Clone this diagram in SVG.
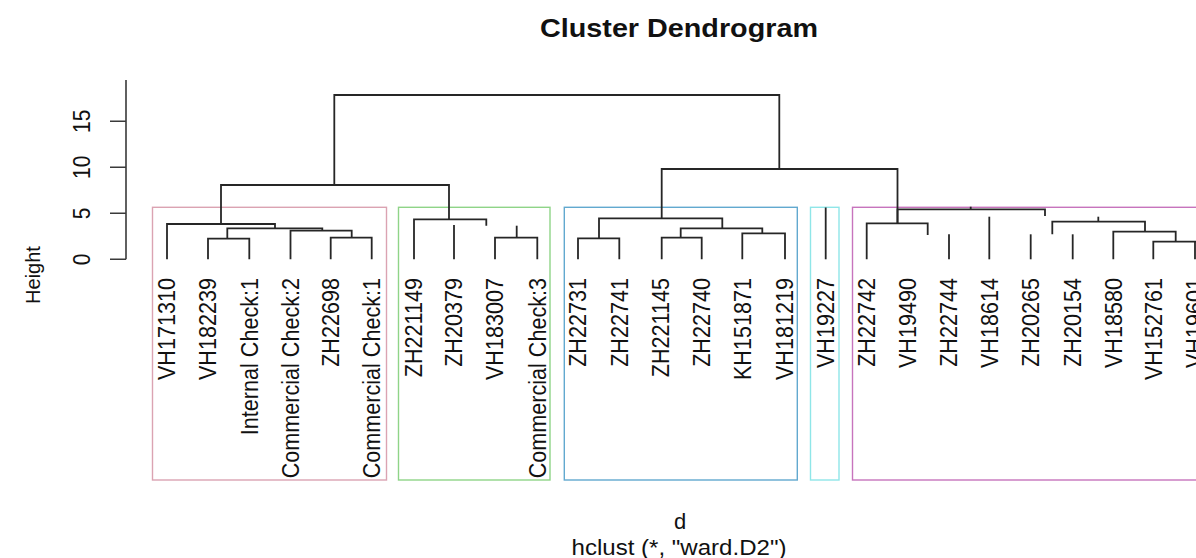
<svg xmlns="http://www.w3.org/2000/svg" width="1196" height="558" viewBox="0 0 1196 558">
  <style>
    text { font-family: "Liberation Sans", Arial, sans-serif; fill: #111; }
    .title { font-size: 26px; font-weight: bold; }
    .sub { font-size: 22px; }
    .tick { font-size: 21px; }
    .leaf { font-size: 21.6px; }
    .axis { fill: none; stroke: #3a3a3a; stroke-width: 1.6; }
    .tree { fill: none; stroke: #262626; stroke-width: 1.8; }
    .box { fill: none; stroke-width: 1.4; }
  </style>

  <!-- titles -->
  <g id="title">
    <text class="title" x="679" y="37" text-anchor="middle" textLength="278" lengthAdjust="spacingAndGlyphs">Cluster Dendrogram</text>
  </g>
  <g id="xlab">
    <text class="sub" x="680" y="529" text-anchor="middle">d</text>
    <text class="sub" x="679" y="555" text-anchor="middle" textLength="215" lengthAdjust="spacingAndGlyphs">hclust (*, "ward.D2")</text>
  </g>
  <g id="ylab">
    <text class="sub" transform="translate(40,275) rotate(-90)" text-anchor="middle" style="font-size:20px">Height</text>
  </g>

  <!-- height axis -->
  <g id="y-axis">
    <path class="axis" d="M126,259.3 V80 M110,259.3 H126 M110,213.3 H126 M110,167.3 H126 M110,121.3 H126"/>
    <text class="tick" transform="translate(90,259.3) scale(1.12,1) rotate(-90)" text-anchor="middle">0</text>
    <text class="tick" transform="translate(90,213.3) scale(1.12,1) rotate(-90)" text-anchor="middle">5</text>
    <text class="tick" transform="translate(90,167.3) scale(1.12,1) rotate(-90)" text-anchor="middle">10</text>
    <text class="tick" transform="translate(90,121.3) scale(1.12,1) rotate(-90)" text-anchor="middle">15</text>
  </g>

  <!-- cluster rectangles -->
  <g id="clusters">
    <rect id="cluster-1" class="box" x="152.5" y="207.3" width="234" height="272.7" stroke="#dba3b2"/>
    <rect id="cluster-2" class="box" x="398.5" y="207.3" width="151.5" height="272.7" stroke="#8fd488"/>
    <rect id="cluster-3" class="box" x="564.3" y="207.3" width="233" height="272.7" stroke="#62a9cf"/>
    <rect id="cluster-4" class="box" x="810.5" y="207.3" width="28.5" height="272.7" stroke="#8fe6e8"/>
    <rect id="cluster-5" class="box" x="852.5" y="207.3" width="360" height="272.7" stroke="#c774bd"/>
  </g>

  <!-- merge branches -->
  <g id="connectors">
    <path class="tree" d="M334.3,185 V95 H779.3 V169"/>
    <path class="tree" d="M221,224 V185 H449 V219.3"/>
    <path class="tree" d="M661.7,218.3 V169 H897.5 V223.3"/>
    <!-- first group -->
    <path class="tree" d="M167,259.3 V224 H275 V228.3"/>
    <path class="tree" d="M227.3,238.7 V228.3 H322.3 V230.7"/>
    <path class="tree" d="M208,259.3 V238.7 H249.3 V259.3"/>
    <path class="tree" d="M290.5,259.3 V230.7 H351.7 V237.7"/>
    <path class="tree" d="M330.7,259.3 V237.7 H371.7 V259.3"/>
    <!-- second group -->
    <path class="tree" d="M414,259.3 V219.3 H486.3 V225.7"/>
    <path class="tree" d="M454,259.3 V225"/>
    <path class="tree" d="M516.7,225.7 V237.7"/>
    <path class="tree" d="M495,259.3 V237.7 H537.3 V259.3"/>
    <!-- third group -->
    <path class="tree" d="M599,238.3 V218.3 H722.3 V228.3"/>
    <path class="tree" d="M578,259.3 V238.3 H619.3 V259.3"/>
    <path class="tree" d="M680.7,237.7 V228.3 H762.3 V233.3"/>
    <path class="tree" d="M661.7,259.3 V237.7 H701.7 V259.3"/>
    <path class="tree" d="M742.3,259.3 V233.3 H785 V259.3"/>
    <!-- single -->
    <path class="tree" d="M825.7,259.3 V207.5"/>
    <!-- fifth group -->
    <path class="tree" d="M866.7,259.3 V223.3 H927.7 V235"/>
    <path class="tree" d="M949,259.3 V234.3"/>
    <path class="tree" d="M897.5,223.3 V209.3 H1045 V216"/>
    <path class="tree" d="M970.7,209.3 V206.7"/>
    <path class="tree" d="M989.3,259.3 V216.7"/>
    <path class="tree" d="M1030.7,259.3 V234.3"/>
    <path class="tree" d="M1052.3,234.3 V221.7 H1145 V231.7"/>
    <path class="tree" d="M1098.3,221.7 V216.7"/>
    <path class="tree" d="M1072.7,259.3 V234.3"/>
    <path class="tree" d="M1113.3,259.3 V231.7 H1175.7 V241.7"/>
    <path class="tree" d="M1153.3,259.3 V241.7 H1196"/>
    <path class="tree" d="M1195,259.3 V241.7"/>
  </g>

  <!-- leaf labels -->
  <g id="leaves" text-anchor="end">
    <g id="leaf-VH171310"><text class="leaf" transform="translate(167,278) scale(1.12,1) rotate(-90)" y="7.5">VH171310</text></g>
    <g id="leaf-VH182239"><text class="leaf" transform="translate(208,278) scale(1.12,1) rotate(-90)" y="7.5">VH182239</text></g>
    <g id="leaf-InternalCheck1"><text class="leaf" transform="translate(249.3,278) scale(1.12,1) rotate(-90)" y="7.5">Internal Check:1</text></g>
    <g id="leaf-CommercialCheck2"><text class="leaf" transform="translate(290.5,278) scale(1.12,1) rotate(-90)" y="7.5">Commercial Check:2</text></g>
    <g id="leaf-ZH22698"><text class="leaf" transform="translate(331,278) scale(1.12,1) rotate(-90)" y="7.5">ZH22698</text></g>
    <g id="leaf-CommercialCheck1"><text class="leaf" transform="translate(371.7,278) scale(1.12,1) rotate(-90)" y="7.5">Commercial Check:1</text></g>
    <g id="leaf-ZH221149"><text class="leaf" transform="translate(414,278) scale(1.12,1) rotate(-90)" y="7.5">ZH221149</text></g>
    <g id="leaf-ZH20379"><text class="leaf" transform="translate(454,278) scale(1.12,1) rotate(-90)" y="7.5">ZH20379</text></g>
    <g id="leaf-VH183007"><text class="leaf" transform="translate(495,278) scale(1.12,1) rotate(-90)" y="7.5">VH183007</text></g>
    <g id="leaf-CommercialCheck3"><text class="leaf" transform="translate(537.3,278) scale(1.12,1) rotate(-90)" y="7.5">Commercial Check:3</text></g>
    <g id="leaf-ZH22731"><text class="leaf" transform="translate(578,278) scale(1.12,1) rotate(-90)" y="7.5">ZH22731</text></g>
    <g id="leaf-ZH22741"><text class="leaf" transform="translate(619.3,278) scale(1.12,1) rotate(-90)" y="7.5">ZH22741</text></g>
    <g id="leaf-ZH221145"><text class="leaf" transform="translate(661,278) scale(1.12,1) rotate(-90)" y="7.5">ZH221145</text></g>
    <g id="leaf-ZH22740"><text class="leaf" transform="translate(701.7,278) scale(1.12,1) rotate(-90)" y="7.5">ZH22740</text></g>
    <g id="leaf-KH151871"><text class="leaf" transform="translate(742.3,278) scale(1.12,1) rotate(-90)" y="7.5">KH151871</text></g>
    <g id="leaf-VH181219"><text class="leaf" transform="translate(785,278) scale(1.12,1) rotate(-90)" y="7.5">VH181219</text></g>
    <g id="leaf-VH19227"><text class="leaf" transform="translate(825.7,278) scale(1.12,1) rotate(-90)" y="7.5">VH19227</text></g>
    <g id="leaf-ZH22742"><text class="leaf" transform="translate(866.7,278) scale(1.12,1) rotate(-90)" y="7.5">ZH22742</text></g>
    <g id="leaf-VH19490"><text class="leaf" transform="translate(907.5,278) scale(1.12,1) rotate(-90)" y="7.5">VH19490</text></g>
    <g id="leaf-ZH22744"><text class="leaf" transform="translate(949,278) scale(1.12,1) rotate(-90)" y="7.5">ZH22744</text></g>
    <g id="leaf-VH18614"><text class="leaf" transform="translate(989.3,278) scale(1.12,1) rotate(-90)" y="7.5">VH18614</text></g>
    <g id="leaf-ZH20265"><text class="leaf" transform="translate(1030.7,278) scale(1.12,1) rotate(-90)" y="7.5">ZH20265</text></g>
    <g id="leaf-ZH20154"><text class="leaf" transform="translate(1072.7,278) scale(1.12,1) rotate(-90)" y="7.5">ZH20154</text></g>
    <g id="leaf-VH18580"><text class="leaf" transform="translate(1113.3,278) scale(1.12,1) rotate(-90)" y="7.5">VH18580</text></g>
    <g id="leaf-VH152761"><text class="leaf" transform="translate(1153.3,278) scale(1.12,1) rotate(-90)" y="7.5">VH152761</text></g>
    <g id="leaf-VH19601"><text class="leaf" transform="translate(1195,278) scale(1.12,1) rotate(-90)" y="7.5">VH19601</text></g>
  </g>
</svg>
